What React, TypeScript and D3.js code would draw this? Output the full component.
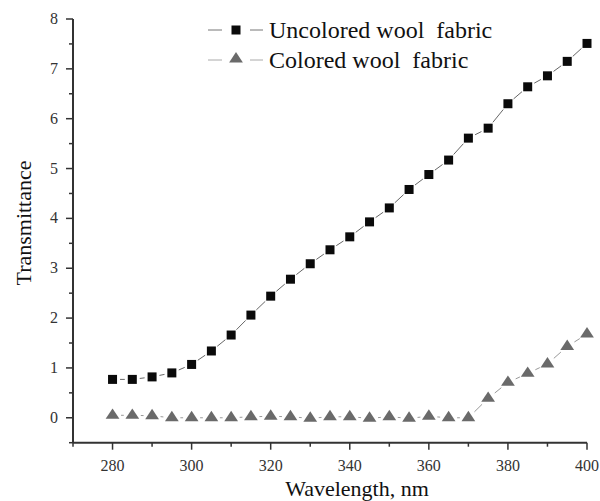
import * as d3 from 'd3';

const wavelengths = [280, 285, 290, 295, 300, 305, 310, 315, 320, 325, 330, 335, 340, 345, 350, 355, 360, 365, 370, 375, 380, 385, 390, 395, 400];
const uncolored = [0.77, 0.77, 0.82, 0.9, 1.07, 1.34, 1.66, 2.06, 2.44, 2.78, 3.09, 3.37, 3.63, 3.93, 4.21, 4.58, 4.88, 5.17, 5.61, 5.81, 6.3, 6.64, 6.86, 7.15, 7.51];
const colored = [0.05, 0.05, 0.04, 0.0, 0.0, 0.0, 0.0, 0.02, 0.03, 0.02, -0.01, 0.02, 0.02, -0.01, 0.02, -0.01, 0.03, 0.0, 0.0, 0.39, 0.71, 0.89, 1.08, 1.43, 1.68];
const xTicks = [280, 300, 320, 340, 360, 380, 400];
const xMinor = [270, 290, 310, 330, 350, 370, 390];
const yTicks = [0, 1, 2, 3, 4, 5, 6, 7, 8];
const yMinor = [-0.5, 0.5, 1.5, 2.5, 3.5, 4.5, 5.5, 6.5, 7.5];
const seriesNames = ['Uncolored wool  fabric', 'Colored wool  fabric'];

const W = 600;
const H = 501;
const FONT = '"Liberation Serif", "Times New Roman", Times, serif';
const AXIS = '#333';

const x = d3.scaleLinear().domain([270, 400]).range([73, 587]);
const y = d3.scaleLinear().domain([-0.5, 8]).range([442.7, 19]);

function gappedSegments(xs: number[], ys: number[], gap: number) {
  const segs: [number, number, number, number][] = [];
  for (let i = 0; i < xs.length - 1; i++) {
    const x1 = x(xs[i]), y1 = y(ys[i]), x2 = x(xs[i + 1]), y2 = y(ys[i + 1]);
    const len = Math.hypot(x2 - x1, y2 - y1);
    if (len <= gap * 2) continue;
    const ux = (x2 - x1) / len, uy = (y2 - y1) / len;
    segs.push([x1 + ux * gap, y1 + uy * gap, x2 - ux * gap, y2 - uy * gap]);
  }
  return segs;
}

const triPath = d3.symbol().type(d3.symbolTriangle).size(62)();
const txt = { fontFamily: FONT, whiteSpace: 'pre' as const };

export default function App() {
  const sqSegs = gappedSegments(wavelengths, uncolored, 7.5);
  const trSegs = gappedSegments(wavelengths, colored, 8.5);

  return (
    <svg width={W} height={H} style={{ position: 'absolute', left: 0, top: 0, background: '#fff' }}>
      {/* axes */}
      <line x1={x(270)} x2={x(400)} y1={y(-0.5)} y2={y(-0.5)} stroke={AXIS} strokeWidth={2} />
      <line x1={x(270)} x2={x(270)} y1={y(-0.5)} y2={y(8)} stroke={AXIS} strokeWidth={2} />

      {xTicks.map(t => (
        <g key={`xt${t}`}>
          <line x1={x(t)} x2={x(t)} y1={y(-0.5)} y2={y(-0.5) + 7} stroke={AXIS} strokeWidth={1.5} />
          <text x={x(t)} y={471} textAnchor="middle" fontSize={16} fill="#333" style={txt}>{t}</text>
        </g>
      ))}
      {xMinor.map(t => (
        <line key={`xm${t}`} x1={x(t)} x2={x(t)} y1={y(-0.5)} y2={y(-0.5) + 4} stroke={AXIS} strokeWidth={1.5} />
      ))}
      {yTicks.map(t => (
        <g key={`yt${t}`}>
          <line x1={x(270) - 7} x2={x(270)} y1={y(t)} y2={y(t)} stroke={AXIS} strokeWidth={1.5} />
          <text x={58} y={y(t) + 5} textAnchor="end" fontSize={16} fill="#333" style={txt}>{t}</text>
        </g>
      ))}
      {yMinor.map(t => (
        <line key={`ym${t}`} x1={x(270) - 4} x2={x(270)} y1={y(t)} y2={y(t)} stroke={AXIS} strokeWidth={1.5} />
      ))}

      {/* axis titles */}
      <text transform="translate(31,223) rotate(-90)" textAnchor="middle" fontSize={22} fill="#111" style={txt}>Transmittance</text>
      <text x={357} y={496} textAnchor="middle" fontSize={22} fill="#111" style={txt}>Wavelength, nm</text>

      {/* connecting lines */}
      {sqSegs.map((s, i) => (
        <line key={`sl${i}`} x1={s[0]} y1={s[1]} x2={s[2]} y2={s[3]} stroke="#666" strokeWidth={1} />
      ))}
      {trSegs.map((s, i) => (
        <line key={`tl${i}`} x1={s[0]} y1={s[1]} x2={s[2]} y2={s[3]} stroke="#999" strokeWidth={1} />
      ))}

      {/* markers */}
      {wavelengths.map((w, i) => (
        <rect key={`sq${w}`} x={x(w) - 4.5} y={y(uncolored[i]) - 4.5} width={9} height={9} fill="#0a0a0a" />
      ))}
      {wavelengths.map((w, i) => (
        <path key={`tr${w}`} d={triPath} transform={`translate(${x(w)},${y(colored[i])}) scale(1.15,1)`} fill="#6a6a6a" />
      ))}

      {/* legend */}
      <g>
        <line x1={208} x2={222} y1={30} y2={30} stroke="#777" strokeWidth={1} />
        <line x1={250} x2={263} y1={30} y2={30} stroke="#777" strokeWidth={1} />
        <rect x={231.5} y={25.5} width={9} height={9} fill="#0a0a0a" />
        <text x={269} y={38} fontSize={24} fill="#111" style={txt}>{seriesNames[0]}</text>
        <line x1={208} x2={222} y1={60} y2={60} stroke="#aaa" strokeWidth={1} />
        <line x1={250} x2={263} y1={60} y2={60} stroke="#aaa" strokeWidth={1} />
        <path d={triPath} transform="translate(236,59) scale(1.15,1)" fill="#6a6a6a" />
        <text x={269} y={68} fontSize={24} fill="#111" style={txt}>{seriesNames[1]}</text>
      </g>
    </svg>
  );
}
